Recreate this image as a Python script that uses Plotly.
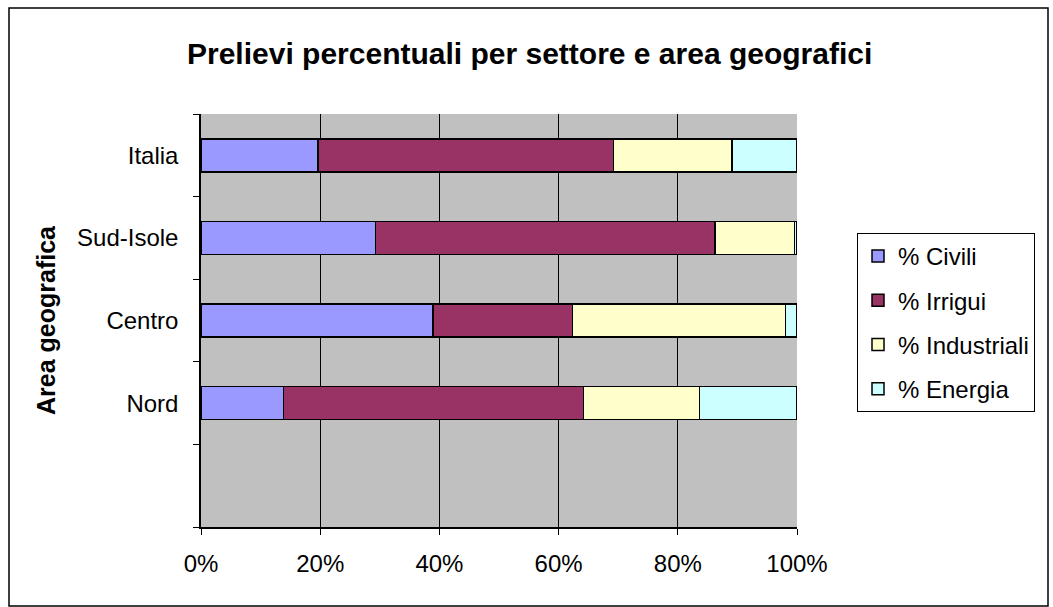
import plotly.graph_objects as go

# ---- data (percent of total withdrawals) ----
categories = ["Nord", "Centro", "Sud-Isole", "Italia"]
series_names = ["% Civili", "% Irrigui", "% Industriali", "% Energia"]
civili = [13.8, 38.9, 29.3, 19.6]
irrigui = [50.4, 23.4, 56.9, 49.6]
industriali = [19.4, 35.8, 13.4, 19.9]
energia = [16.4, 1.9, 0.4, 10.9]
x_tick_values = [0, 20, 40, 60, 80, 100]
x_tick_labels = ["0%", "20%", "40%", "60%", "80%", "100%"]

colors = ["#9999FF", "#993366", "#FFFFCC", "#CCFFFF"]
series = [civili, irrigui, industriali, energia]

# category slots: index 0 is an empty slot at the bottom (as in the original)
y_pos = [i + 1 for i in range(len(categories))]
n_slots = len(categories) + 1
boundaries = [i - 0.5 for i in range(n_slots + 1)]

FONT = "Liberation Sans, Arial, sans-serif"

fig = go.Figure()
for name, vals, col in zip(series_names, series, colors):
    fig.add_trace(go.Bar(
        y=y_pos, x=vals, name=name, orientation="h",
        width=0.4, legendgroup=name,
        marker=dict(color=col, line=dict(color="black", width=1.5)),
    ))

W, H = 1053, 607
ml, mr, mt, mb = 201, 256, 114, 80
pw, ph = W - ml - mr, H - mt - mb


def px_to_paper_x(px):
    return (px - ml) / pw


def px_to_paper_y(py):
    return 1 - (py - mt) / ph


# outer chart border
fig.add_shape(type="rect", xref="paper", yref="paper",
              x0=px_to_paper_x(9), x1=px_to_paper_x(1048),
              y0=px_to_paper_y(606), y1=px_to_paper_y(8),
              line=dict(color="black", width=1.5), fillcolor="rgba(0,0,0,0)",
              layer="below")

fig.update_layout(
    width=W, height=H,
    margin=dict(l=ml, r=mr, t=mt, b=mb, autoexpand=False),
    barmode="stack",
    paper_bgcolor="white",
    plot_bgcolor="#C0C0C0",
    font=dict(family=FONT, size=24, color="black"),
    title=dict(text="<b>Prelievi percentuali per settore e area geografici</b>",
               x=0.503, xanchor="center", y=1 - 53 / H, yanchor="middle",
               font=dict(size=30, family=FONT, color="black")),
    legend=dict(
        x=px_to_paper_x(857), xanchor="left",
        y=px_to_paper_y(233), yanchor="top",
        bordercolor="black", borderwidth=1, bgcolor="white",
        traceorder="grouped", tracegroupgap=10,
        font=dict(size=24, family=FONT, color="black"),
        itemwidth=30,
    ),
    xaxis=dict(
        range=[0, 100], tickvals=x_tick_values, ticktext=x_tick_labels,
        showgrid=True, gridcolor="black", gridwidth=1,
        ticks="outside", ticklen=6, tickcolor="black", tickwidth=1,
        showline=True, linecolor="black", linewidth=1.5,
        zeroline=False, ticklabelstandoff=8,
        tickfont=dict(size=24, family=FONT, color="black"),
    ),
    yaxis=dict(
        range=[-0.5, n_slots - 0.5], tickvals=y_pos, ticktext=categories,
        ticks="", showgrid=False, zeroline=False,
        showline=True, linecolor="black", linewidth=1.5,
        minor=dict(tickvals=boundaries, ticks="outside", ticklen=6,
                   tickcolor="black", tickwidth=1, showgrid=False),
        ticklabelstandoff=16,
        tickfont=dict(size=24, family=FONT, color="black"),
        title=dict(text="<b>Area geografica</b>", standoff=14,
                   font=dict(size=25, family=FONT, color="black")),
    ),
    showlegend=True,
)

fig.write_html("out.html")
